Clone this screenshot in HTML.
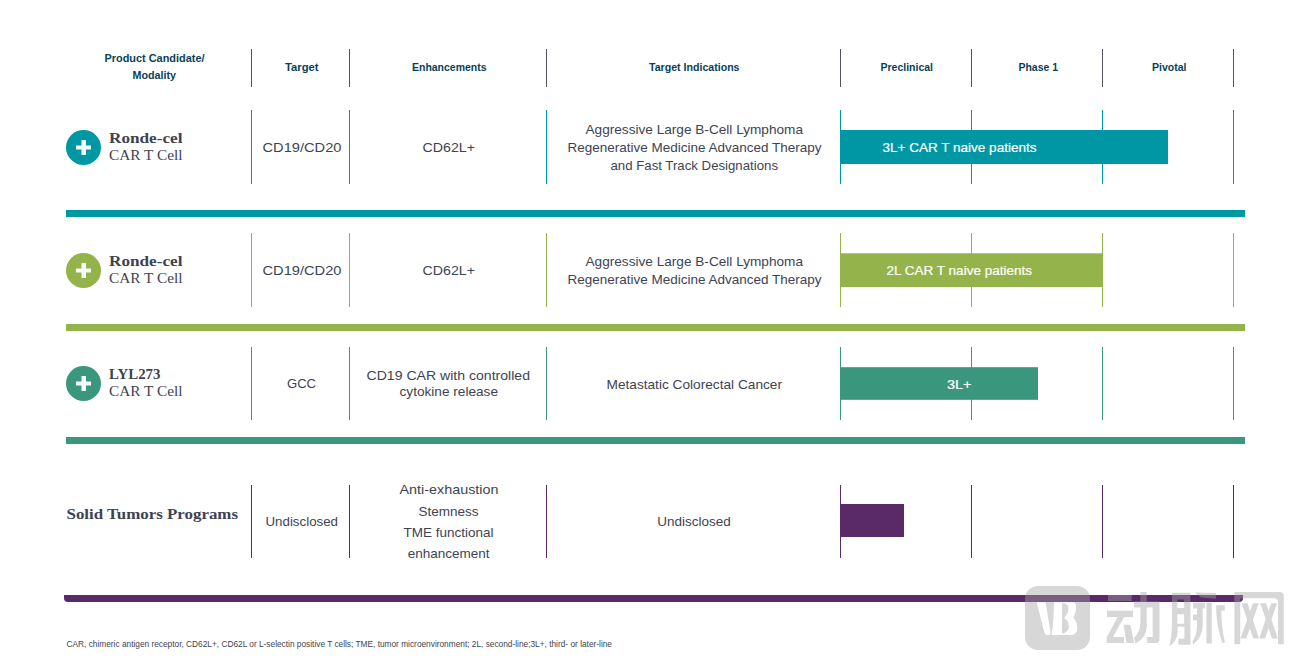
<!DOCTYPE html>
<html><head><meta charset="utf-8"><title>Pipeline</title>
<style>html,body{margin:0;padding:0;background:#ffffff;width:1294px;height:660px;overflow:hidden}svg{display:block}</style>
</head><body>
<svg width="1294" height="660" viewBox="0 0 1294 660"><rect x="251" y="49" width="1" height="38" fill="#50535f"/>
<rect x="349" y="49" width="1" height="38" fill="#50535f"/>
<rect x="546" y="49" width="1" height="38" fill="#50535f"/>
<rect x="840" y="49" width="1" height="38" fill="#50535f"/>
<rect x="971" y="49" width="1" height="38" fill="#50535f"/>
<rect x="1102" y="49" width="1" height="38" fill="#50535f"/>
<rect x="1233" y="49" width="1" height="38" fill="#50535f"/>
<text x="104.5" y="62" font-family="'Liberation Sans', sans-serif" font-size="11" font-weight="700" fill="#083f57" text-anchor="start" textLength="100" lengthAdjust="spacingAndGlyphs">Product Candidate/</text>
<text x="132.5" y="78.9" font-family="'Liberation Sans', sans-serif" font-size="11" font-weight="700" fill="#083f57" text-anchor="start" textLength="43.5" lengthAdjust="spacingAndGlyphs">Modality</text>
<text x="285" y="71" font-family="'Liberation Sans', sans-serif" font-size="11" font-weight="700" fill="#083f57" text-anchor="start" textLength="33.5" lengthAdjust="spacingAndGlyphs">Target</text>
<text x="412" y="71" font-family="'Liberation Sans', sans-serif" font-size="11" font-weight="700" fill="#083f57" text-anchor="start" textLength="74.5" lengthAdjust="spacingAndGlyphs">Enhancements</text>
<text x="649" y="71" font-family="'Liberation Sans', sans-serif" font-size="11" font-weight="700" fill="#083f57" text-anchor="start" textLength="90.5" lengthAdjust="spacingAndGlyphs">Target Indications</text>
<text x="880.5" y="71" font-family="'Liberation Sans', sans-serif" font-size="11" font-weight="700" fill="#083f57" text-anchor="start" textLength="52.5" lengthAdjust="spacingAndGlyphs">Preclinical</text>
<text x="1018.5" y="71" font-family="'Liberation Sans', sans-serif" font-size="11" font-weight="700" fill="#083f57" text-anchor="start" textLength="39.5" lengthAdjust="spacingAndGlyphs">Phase 1</text>
<text x="1152" y="71" font-family="'Liberation Sans', sans-serif" font-size="11" font-weight="700" fill="#083f57" text-anchor="start" textLength="34.5" lengthAdjust="spacingAndGlyphs">Pivotal</text>
<rect x="251" y="110" width="1" height="74" fill="#0097a5"/>
<rect x="349" y="110" width="1" height="74" fill="#0097a5"/>
<rect x="546" y="110" width="1" height="74" fill="#0097a5"/>
<rect x="840" y="110" width="1" height="74" fill="#0097a5"/>
<rect x="971" y="110" width="1" height="74" fill="#0097a5"/>
<rect x="1102" y="110" width="1" height="74" fill="#0097a5"/>
<rect x="1233" y="110" width="1" height="74" fill="#0097a5"/>
<rect x="840" y="130" width="328" height="34" fill="#0097a5"/>
<circle cx="83.5" cy="147.5" r="17.5" fill="#0097a5"/>
<rect x="76" y="145.5" width="15" height="4" fill="#f4fbfb"/>
<rect x="81.5" y="140.0" width="4.5" height="15" fill="#f4fbfb"/>
<rect x="251" y="233" width="1" height="74" fill="#94b34a"/>
<rect x="349" y="233" width="1" height="74" fill="#94b34a"/>
<rect x="546" y="233" width="1" height="74" fill="#94b34a"/>
<rect x="840" y="233" width="1" height="74" fill="#94b34a"/>
<rect x="971" y="233" width="1" height="74" fill="#94b34a"/>
<rect x="1102" y="233" width="1" height="74" fill="#94b34a"/>
<rect x="1233" y="233" width="1" height="74" fill="#94b34a"/>
<rect x="840" y="253.3" width="262" height="33.7" fill="#94b34a"/>
<circle cx="83.5" cy="270.5" r="17.5" fill="#94b34a"/>
<rect x="76" y="268.5" width="15" height="4" fill="#f4fbfb"/>
<rect x="81.5" y="263.0" width="4.5" height="15" fill="#f4fbfb"/>
<rect x="251" y="347" width="1" height="73" fill="#3a967c"/>
<rect x="349" y="347" width="1" height="73" fill="#3a967c"/>
<rect x="546" y="347" width="1" height="73" fill="#3a967c"/>
<rect x="840" y="347" width="1" height="73" fill="#3a967c"/>
<rect x="971" y="347" width="1" height="73" fill="#3a967c"/>
<rect x="1102" y="347" width="1" height="73" fill="#3a967c"/>
<rect x="1233" y="347" width="1" height="73" fill="#3a967c"/>
<rect x="840" y="367.2" width="198" height="32.6" fill="#3a967c"/>
<circle cx="83.5" cy="383.5" r="17.5" fill="#3a967c"/>
<rect x="76" y="381.5" width="15" height="4" fill="#f4fbfb"/>
<rect x="81.5" y="376.0" width="4.5" height="15" fill="#f4fbfb"/>
<rect x="251" y="485" width="1" height="73" fill="#5a2a68"/>
<rect x="349" y="485" width="1" height="73" fill="#5a2a68"/>
<rect x="546" y="485" width="1" height="73" fill="#5a2a68"/>
<rect x="840" y="485" width="1" height="73" fill="#5a2a68"/>
<rect x="971" y="485" width="1" height="73" fill="#5a2a68"/>
<rect x="1102" y="485" width="1" height="73" fill="#5a2a68"/>
<rect x="1233" y="485" width="1" height="73" fill="#5a2a68"/>
<rect x="840" y="504" width="64" height="33" fill="#5a2a68"/>
<rect x="66" y="210" width="1179" height="7" fill="#0097a5"/>
<rect x="66" y="324" width="1179" height="7" fill="#94b34a"/>
<rect x="66" y="437" width="1179" height="7" fill="#3a967c"/>
<path d="M64 595 H1243 V598 A4 4 0 0 1 1239 602 H68 A4 4 0 0 1 64 598 Z" fill="#5a2a68"/>
<text x="109" y="142.7" font-family="'Liberation Serif', serif" font-size="14" font-weight="700" fill="#3e4352" text-anchor="start" textLength="73.5" lengthAdjust="spacingAndGlyphs">Ronde-cel</text>
<text x="109" y="159.5" font-family="'Liberation Serif', serif" font-size="14" font-weight="400" fill="#3e4352" text-anchor="start" textLength="73.5" lengthAdjust="spacingAndGlyphs">CAR T Cell</text>
<text x="262.5" y="151.9" font-family="'Liberation Sans', sans-serif" font-size="13.5" font-weight="400" fill="#3e4352" text-anchor="start" textLength="79" lengthAdjust="spacingAndGlyphs">CD19/CD20</text>
<text x="422.5" y="151.9" font-family="'Liberation Sans', sans-serif" font-size="13.5" font-weight="400" fill="#3e4352" text-anchor="start" textLength="52.5" lengthAdjust="spacingAndGlyphs">CD62L+</text>
<text x="585.5" y="134.2" font-family="'Liberation Sans', sans-serif" font-size="13.5" font-weight="400" fill="#3e4352" text-anchor="start" textLength="217.5" lengthAdjust="spacingAndGlyphs">Aggressive Large B-Cell Lymphoma</text>
<text x="567.5" y="151.9" font-family="'Liberation Sans', sans-serif" font-size="13.5" font-weight="400" fill="#3e4352" text-anchor="start" textLength="254" lengthAdjust="spacingAndGlyphs">Regenerative Medicine Advanced Therapy</text>
<text x="610.5" y="169.7" font-family="'Liberation Sans', sans-serif" font-size="13.5" font-weight="400" fill="#3e4352" text-anchor="start" textLength="167.5" lengthAdjust="spacingAndGlyphs">and Fast Track Designations</text>
<text x="882.5" y="151.8" font-family="'Liberation Sans', sans-serif" font-size="13.5" font-weight="400" fill="#ffffff" text-anchor="start" stroke="#ffffff" stroke-width="0.2" textLength="154" lengthAdjust="spacingAndGlyphs">3L+ CAR T naive patients</text>
<text x="109" y="265.5" font-family="'Liberation Serif', serif" font-size="14" font-weight="700" fill="#3e4352" text-anchor="start" textLength="73.5" lengthAdjust="spacingAndGlyphs">Ronde-cel</text>
<text x="109" y="282.5" font-family="'Liberation Serif', serif" font-size="14" font-weight="400" fill="#3e4352" text-anchor="start" textLength="73.5" lengthAdjust="spacingAndGlyphs">CAR T Cell</text>
<text x="262.5" y="274.8" font-family="'Liberation Sans', sans-serif" font-size="13.5" font-weight="400" fill="#3e4352" text-anchor="start" textLength="79" lengthAdjust="spacingAndGlyphs">CD19/CD20</text>
<text x="422.5" y="274.8" font-family="'Liberation Sans', sans-serif" font-size="13.5" font-weight="400" fill="#3e4352" text-anchor="start" textLength="52.5" lengthAdjust="spacingAndGlyphs">CD62L+</text>
<text x="585.5" y="266.3" font-family="'Liberation Sans', sans-serif" font-size="13.5" font-weight="400" fill="#3e4352" text-anchor="start" textLength="217.5" lengthAdjust="spacingAndGlyphs">Aggressive Large B-Cell Lymphoma</text>
<text x="567.5" y="284" font-family="'Liberation Sans', sans-serif" font-size="13.5" font-weight="400" fill="#3e4352" text-anchor="start" textLength="254" lengthAdjust="spacingAndGlyphs">Regenerative Medicine Advanced Therapy</text>
<text x="886.5" y="274.5" font-family="'Liberation Sans', sans-serif" font-size="13.5" font-weight="400" fill="#ffffff" text-anchor="start" stroke="#ffffff" stroke-width="0.2" textLength="145.5" lengthAdjust="spacingAndGlyphs">2L CAR T naive patients</text>
<text x="109" y="379" font-family="'Liberation Serif', serif" font-size="14" font-weight="700" fill="#3e4352" text-anchor="start" textLength="51.5" lengthAdjust="spacingAndGlyphs">LYL273</text>
<text x="109" y="396" font-family="'Liberation Serif', serif" font-size="14" font-weight="400" fill="#3e4352" text-anchor="start" textLength="73.5" lengthAdjust="spacingAndGlyphs">CAR T Cell</text>
<text x="287" y="388.1" font-family="'Liberation Sans', sans-serif" font-size="13.5" font-weight="400" fill="#3e4352" text-anchor="start" textLength="29" lengthAdjust="spacingAndGlyphs">GCC</text>
<text x="366.5" y="379.9" font-family="'Liberation Sans', sans-serif" font-size="13.5" font-weight="400" fill="#3e4352" text-anchor="start" textLength="163.5" lengthAdjust="spacingAndGlyphs">CD19 CAR with controlled</text>
<text x="399.5" y="395.7" font-family="'Liberation Sans', sans-serif" font-size="13.5" font-weight="400" fill="#3e4352" text-anchor="start" textLength="98.5" lengthAdjust="spacingAndGlyphs">cytokine release</text>
<text x="606.5" y="388.7" font-family="'Liberation Sans', sans-serif" font-size="13.5" font-weight="400" fill="#3e4352" text-anchor="start" textLength="175.5" lengthAdjust="spacingAndGlyphs">Metastatic Colorectal Cancer</text>
<text x="947" y="388.8" font-family="'Liberation Sans', sans-serif" font-size="13.5" font-weight="400" fill="#ffffff" text-anchor="start" stroke="#ffffff" stroke-width="0.2" textLength="24.5" lengthAdjust="spacingAndGlyphs">3L+</text>
<text x="66.5" y="518.8" font-family="'Liberation Serif', serif" font-size="14" font-weight="700" fill="#3e4352" text-anchor="start" textLength="171.5" lengthAdjust="spacingAndGlyphs">Solid Tumors Programs</text>
<text x="265.5" y="526.1" font-family="'Liberation Sans', sans-serif" font-size="13.5" font-weight="400" fill="#3e4352" text-anchor="start" textLength="72.5" lengthAdjust="spacingAndGlyphs">Undisclosed</text>
<text x="399.5" y="494" font-family="'Liberation Sans', sans-serif" font-size="13.5" font-weight="400" fill="#3e4352" text-anchor="start" textLength="99" lengthAdjust="spacingAndGlyphs">Anti-exhaustion</text>
<text x="448.6" y="516" font-family="'Liberation Sans', sans-serif" font-size="13.5" font-weight="400" fill="#3e4352" text-anchor="middle">Stemness</text>
<text x="448.6" y="537.1" font-family="'Liberation Sans', sans-serif" font-size="13.5" font-weight="400" fill="#3e4352" text-anchor="middle">TME functional</text>
<text x="448.6" y="557.9" font-family="'Liberation Sans', sans-serif" font-size="13.5" font-weight="400" fill="#3e4352" text-anchor="middle">enhancement</text>
<text x="694" y="526.1" font-family="'Liberation Sans', sans-serif" font-size="13.5" font-weight="400" fill="#3e4352" text-anchor="middle">Undisclosed</text>
<text x="66.5" y="646.7" font-family="'Liberation Sans', sans-serif" font-size="9.5" font-weight="400" fill="#3e4352" text-anchor="start" textLength="545.5" lengthAdjust="spacingAndGlyphs">CAR, chimeric antigen receptor, CD62L+, CD62L or L-selectin positive T cells; TME, tumor microenvironment; 2L, second-line;3L+, third- or later-line</text>
<g fill="#a4a4a4" opacity="0.43"><rect x="1025" y="586" width="65" height="64" rx="13" ry="13"/><path d="M1108 595 h23.7 v6 h-23.7z"/><path d="M1107 610.7 h26 v6.4 h-26z"/><path d="M1117.6 617 h6.5 L1113 637 h11 v6 h-17.3 v-5.5z"/><path d="M1123.5 624.8 h7 L1134 643 h-7.5z"/><path d="M1140.4 592 h6.3 v34 Q1146.7 638 1135.4 643.5 L1134 638 Q1140.4 632 1140.4 622z"/><path d="M1134 601.6 h25.5 v38 q0 3.5 -3.5 3.5 h-8.5 l-0.8 -6 h6 v-29.5 h-18.7z"/><path d="M1172 592.8 h18.4 v52 q0 -0 -2 0 h-10 v-6 h6 v-12 h-6.8 v6 q-1 9 -8.2 13.5 q2.5 -9 2.5 -20 z M1177.3 599.4 v8.6 h6.8 v-8.6z M1177.3 614.2 v9.6 h6.8 v-9.6z"/><path d="M1195 592.4 L1216 593 v5.8 L1201 597.6z"/><path d="M1193 602.5 H1205.2 V608.5 H1202.6 V626 Q1202.6 637 1193 644.5 L1192.6 641 Q1197 635 1197 626 V620.3 H1193 V614.4 H1197 V608.5 H1193 Z"/><path d="M1206.4 602.5 H1211.8 V643.5 H1206.4 Z"/><path d="M1216.2 605.3 H1224.8 V610.7 H1221.2 Q1221.5 628 1225 642.5 L1222.4 643 Q1217 628 1216.2 610.7 Z"/><path d="M1234.4 591.9 h45.4 q4 0 4 4 v48.4 h-5.8 v-42 q0 -4 -4 -4 h-33.8 v46 h-5.8z"/><path d="M1241.7 603.2 H1247.5 L1259 638.5 H1253.2 Z"/><path d="M1253 603.2 H1258.8 L1246.3 638.5 H1240.5 Z"/><path d="M1260.4 603.2 H1266 L1277.8 638.5 H1272 Z"/><path d="M1271.2 603.2 H1277 L1265 638.5 H1259.2 Z"/></g>
<path fill="#ffffff" d="M1036.7 602.3 H1045.6 L1050.5 632 Q1050.7 635 1047.6 635 Q1045 635 1044.3 632.5 Z"/>
<path fill="#ffffff" fill-rule="evenodd" d="M1053.9 602.3 H1072.5 Q1076 602.3 1076 606.5 Q1076.4 612.5 1073.3 617.5 Q1077.3 622 1077.3 628.5 Q1077.3 635 1071 635 H1051.6 Q1053.9 620 1053.9 602.3 Z M1062.1 603 Q1066.5 603 1068 606 Q1069.3 609.5 1067.8 612.5 Q1066.5 615.5 1064.2 617.8 Q1068.9 621.5 1068.9 626.5 Q1068.9 632 1061.9 633.8 Z"/></svg>
</body></html>
